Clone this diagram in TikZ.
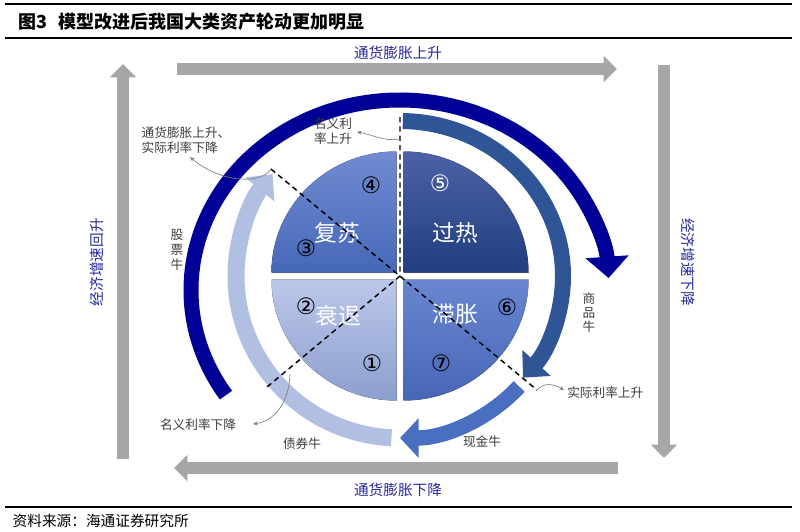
\documentclass[tikz,border=0pt]{standalone}
\usepackage{fontspec}
\usetikzlibrary{arrows.meta}
\setmainfont{Noto Sans CJK SC}
\newfontfamily\circfont{DejaVu Sans}

\definecolor{navyarc}{RGB}{0,0,150}
\definecolor{hotarc}{RGB}{47,85,151}
\definecolor{casharc}{RGB}{74,111,193}
\definecolor{bondarc}{RGB}{176,191,226}
\definecolor{labblue}{RGB}{40,40,160}
\definecolor{arrgray}{RGB}{166,166,166}
\definecolor{notegray}{RGB}{60,60,60}

\begin{document}
\begin{tikzpicture}[x=0.75pt,y=-0.75pt,
  quadlab/.style={text=white,font=\fontsize{17pt}{17pt}\selectfont},
  circnum/.style={font=\circfont\fontsize{17pt}{17pt}\selectfont},
  anno/.style={text=notegray,font=\fontsize{9.5pt}{11.3pt}\selectfont,align=left,inner sep=0pt},
  bluelab/.style={text=labblue,font=\fontsize{11pt}{11pt}\selectfont},
  grayarrow/.style={draw=arrgray,line width=9pt,-{Triangle[width=19pt,length=10pt]}},
  dashline/.style={line width=1.1pt,dash pattern=on 4pt off 3pt},
  annoline/.style={draw=gray,line width=0.5pt,-{Stealth[length=3.5pt,width=3pt]}}]
\useasboundingbox (0,0) rectangle (800,532);

% frame lines and title
\draw[line width=1.5pt] (5,4) -- (792,4);
\draw[line width=1.3pt] (5,38) -- (792,38);
\draw[line width=1.5pt] (5,507) -- (792,507);
\node[anchor=west,font=\fontsize{13.5pt}{13.5pt}\selectfont\bfseries] (title) at (14,22)
  {图3\hspace{0.6em}模型改进后我国大类资产轮动更加明显};
\node[anchor=west,font=\fontsize{11pt}{11pt}\selectfont] (source) at (8,521) {资料来源：海通证券研究所};

% outer gray arrows
\coordinate (infUpA) at (177,69);  \coordinate (infUpB) at (617,69);
\coordinate (gdpDnA) at (664,65);  \coordinate (gdpDnB) at (664,458);
\coordinate (infDnA) at (618,468); \coordinate (infDnB) at (174,468);
\coordinate (gdpUpA) at (123,459); \coordinate (gdpUpB) at (123,64);
\draw[grayarrow] (infUpA) -- (infUpB);
\draw[grayarrow] (gdpDnA) -- (gdpDnB);
\draw[grayarrow] (infDnA) -- (infDnB);
\draw[grayarrow] (gdpUpA) -- (gdpUpB);
\node[bluelab] (infUp) at (398,53) {通货膨胀上升};
\node[bluelab] (infDn) at (398,490) {通货膨胀下降};
\node[bluelab,rotate=90] (gdpUp) at (97,262) {经济增速回升};
\node[bluelab,rotate=-90] (gdpDn) at (688,262) {经济增速下降};

% four quadrants
\coordinate (ctr) at (400,276);
\coordinate (bigc) at (400,290);
\fill[top color={rgb,255:red,114;green,139;blue,210},bottom color={rgb,255:red,70;green,104;blue,184}]
  (396.5,272.5) -- ++(-125,0) arc[start angle=180,end angle=270,x radius=125,y radius=121] -- cycle;
\fill[top color={rgb,255:red,76;green,98;blue,164},bottom color={rgb,255:red,33;green,62;blue,128}]
  (403.5,272.5) -- ++(0,-121) arc[start angle=270,end angle=360,x radius=125,y radius=121] -- cycle;
\fill[top color={rgb,255:red,106;green,134;blue,208},bottom color={rgb,255:red,70;green,102;blue,182}]
  (403.5,279.5) -- ++(125,0) arc[start angle=0,end angle=90,x radius=125,y radius=121] -- cycle;
\fill[top color={rgb,255:red,188;green,200;blue,234},bottom color={rgb,255:red,140;green,158;blue,206}]
  (396.5,279.5) -- ++(0,121) arc[start angle=90,end angle=180,x radius=125,y radius=121] -- cycle;

\node[quadlab] (recov) at (337,233) {复苏};
\node[quadlab] (overh) at (455,233) {过热};
\node[quadlab] (reces) at (338,316) {衰退};
\node[quadlab] (stagf) at (455,314) {滞胀};
\node[circnum] (n1) at (372,363) {①};
\node[circnum] (n2) at (306,306) {②};
\node[circnum] (n3) at (306,248) {③};
\node[circnum] (n4) at (371,185) {④};
\node[circnum,text=white] (n5) at (440,183) {⑤};
\node[circnum] (n6) at (507,307) {⑥};
\node[circnum] (n7) at (441,363) {⑦};

% rotation arcs
\draw[navyarc,line width=11.25pt,-{Triangle[width=31.5pt,length=16pt]}]
  (bigc) ++(146.4:209 and 190) arc[start angle=146.4,end angle=356.4,x radius=209,y radius=190];
\draw[hotarc,line width=12pt,-{Triangle[width=28pt,length=15pt]}]
  (ctr) ++(271:163 and 155) arc[start angle=271,end angle=401,x radius=163,y radius=155];
\draw[casharc,line width=11.5pt,-{Triangle[width=29pt,length=14pt]}]
  (ctr) ++(43:163 and 162) arc[start angle=43,end angle=90,x radius=163,y radius=162];
\draw[bondarc,line width=12.75pt,-{Triangle[width=27.5pt,length=15pt]}]
  (ctr) ++(93:164 and 162) arc[start angle=93,end angle=219,x radius=164,y radius=162];

% dashed borders of the cycle
\coordinate (dTL) at (271,169);
\coordinate (dBR) at (537,390);
\coordinate (dTop) at (400,117);
\coordinate (dBL) at (267,387);
\draw[dashline] (dTL) -- (dBR);
\draw[dashline] (dTop) -- (ctr) -- (dBL);

% labels of the asset bulls
\node[anno] (stockb) at (177,250) {股\\票\\牛};
\node[anno,font=\fontsize{9.5pt}{10.5pt}\selectfont] (commb) at (589,313) {商\\品\\牛};
\node[anno] (bondb) at (302,444) {债券牛};
\node[anno] (cashb) at (482,442) {现金牛};

% annotations with pointers
\node[anno] (infRise) at (186,140) {通货膨胀上升、\\实际利率下降};
\node[anno] (nomRise) at (333,131) {名义利\\率上升};
\node[anno,anchor=west] (realRise) at (567,393) {实际利率上升};
\node[anno] (nomFall) at (198,425) {名义利率下降};
\coordinate (pInf) at (190,157);
\coordinate (pNomA) at (399,139);
\coordinate (pNom) at (357,132);
\coordinate (pReal) at (564,390);
\coordinate (pFallA) at (290,374);
\coordinate (pFall) at (253,424);
\draw[annoline] (dTL) .. controls (262,184) and (222,184) .. (pInf);
\draw[annoline] (pNomA) .. controls (385,142) and (370,134) .. (pNom);
\draw[annoline] (dBR) .. controls (543,383) and (552,383) .. (pReal);
\draw[annoline] (pFallA) .. controls (289,402) and (275,421) .. (pFall);
\end{tikzpicture}
\end{document}
